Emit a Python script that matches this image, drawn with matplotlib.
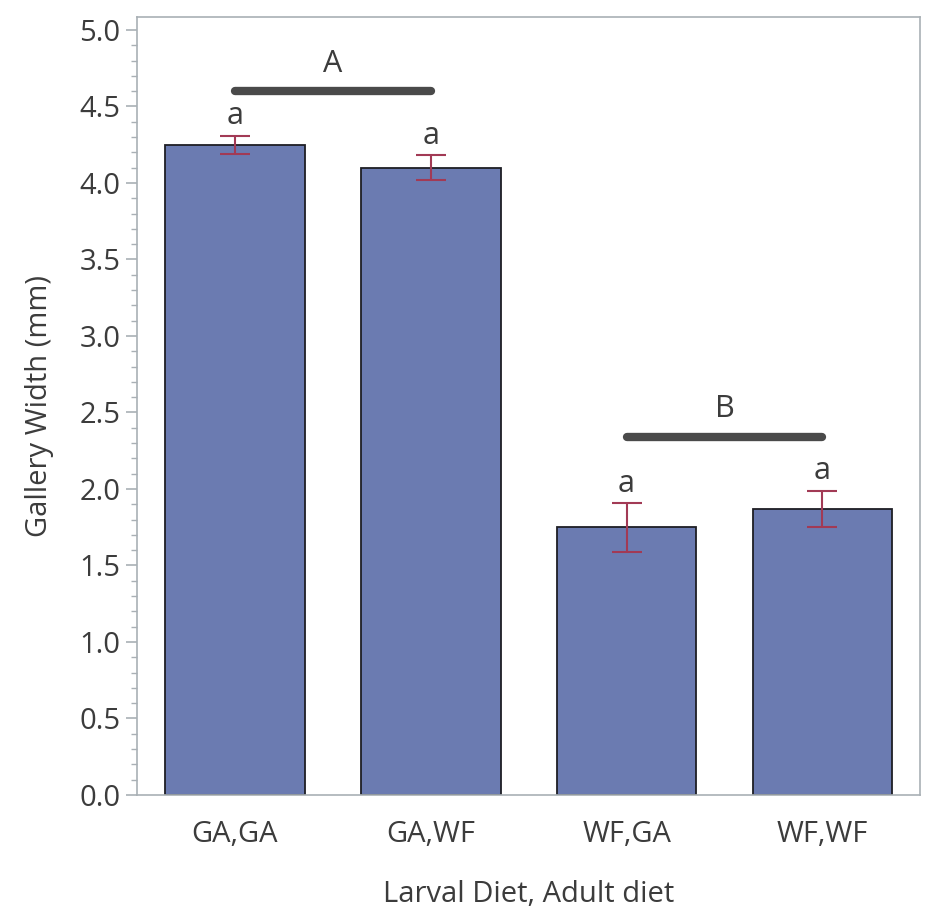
import matplotlib.pyplot as plt
from matplotlib.ticker import MultipleLocator

plt.rcParams['font.family'] = ['Open Sans', 'DejaVu Sans']

# Gallery width by larval/adult diet
diets = ['GA,GA', 'GA,WF', 'WF,GA', 'WF,WF']
means = [4.25, 4.10, 1.75, 1.87]
errs = [0.06, 0.08, 0.16, 0.12]
letters = ['a', 'a', 'a', 'a']

# group brackets: (first bar, last bar, height, label)
groups = [(0, 1, 4.6, 'A'), (2, 3, 2.34, 'B')]

text_col = '#3c3c3c'
axis_col = '#a9b0b5'

fig = plt.figure(figsize=(9.25, 9.18), dpi=100)
ax = fig.add_axes([0.148, 0.134, 0.847, 0.8475])

x = range(len(diets))
ax.bar(x, means, width=0.714, color='#6b7bb1', edgecolor='#1e1e24', linewidth=1.3, zorder=2)
ax.errorbar(x, means, yerr=errs, fmt='none', ecolor='#a23a55', elinewidth=1.5,
            capsize=11, capthick=1.5, zorder=3)

for xi, m, e, l in zip(x, means, errs, letters):
    ax.annotate(l, (xi, m + e), xytext=(0, 3), textcoords='offset points',
                ha='center', va='bottom', fontsize=22, color=text_col)

for x0, x1, h, lab in groups:
    ax.plot([x0, x1], [h, h], color='#4a4a4a', lw=6, solid_capstyle='round', zorder=3)
    ax.annotate(lab, ((x0 + x1) / 2, h), xytext=(0, 9), textcoords='offset points',
                ha='center', va='bottom', fontsize=22, color=text_col)

ax.set_xlim(-0.5, 3.5)
ax.set_ylim(0, 5.085)
ax.set_xticks(list(x))
ax.set_xticklabels(diets)
ax.yaxis.set_major_locator(MultipleLocator(0.5))
ax.yaxis.set_minor_locator(MultipleLocator(0.1))
ax.yaxis.set_major_formatter(plt.FormatStrFormatter('%.1f'))

ax.tick_params(axis='x', length=0, pad=18, labelsize=21, labelcolor=text_col)
ax.tick_params(axis='y', which='major', length=8, width=1.2, color=axis_col,
               labelsize=21, labelcolor=text_col, pad=4)
ax.tick_params(axis='y', which='minor', length=4, width=1.0, color=axis_col)

for s in ax.spines.values():
    s.set_color(axis_col)
    s.set_linewidth(1.2)

ax.set_xlabel('Larval Diet, Adult diet', fontsize=21, color=text_col, labelpad=22)
ax.set_ylabel('Gallery Width (mm)', fontsize=21, color=text_col, labelpad=18)

fig.savefig('out.png', dpi=100)
